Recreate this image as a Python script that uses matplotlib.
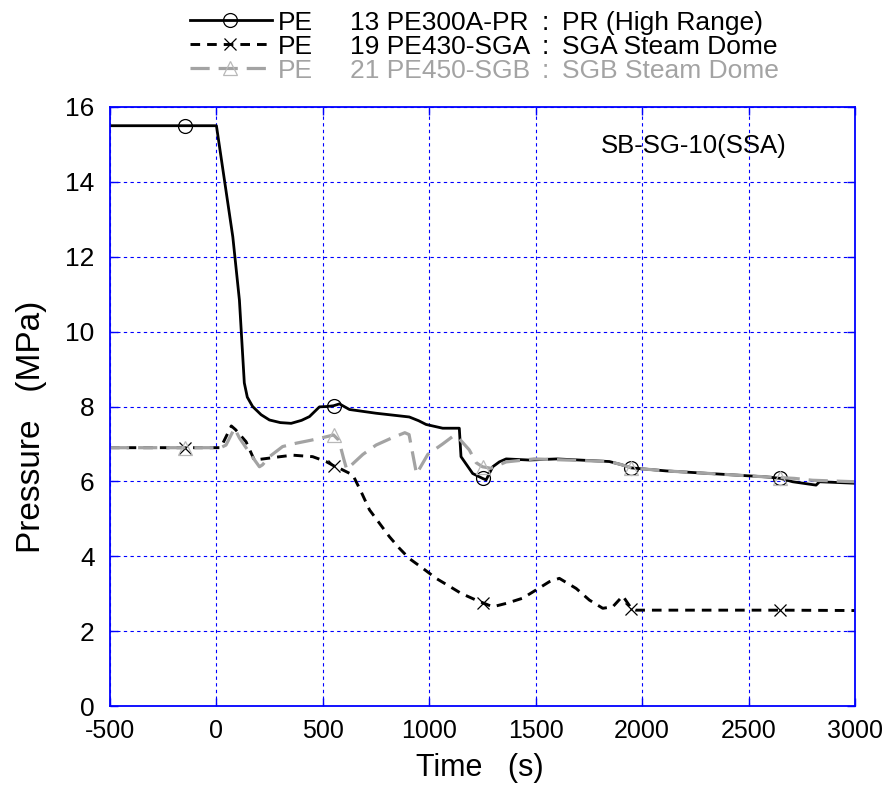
import matplotlib
matplotlib.use('Agg')
import matplotlib.pyplot as plt
from matplotlib.lines import Line2D

# PE 13 PE300A-PR : PR (High Range)
pr_t = [-500, -150, 0, 77, 108, 131, 145, 170, 210, 249, 300, 351, 400, 437, 484, 520, 550, 578, 625, 750,
        906, 950, 985, 1063, 1141, 1149, 1204, 1250, 1267, 1298, 1329, 1361, 1470, 1600, 1846, 1900, 1950,
        2112, 2582, 2650, 2707, 2817, 2833, 3000]
pr_p = [15.5, 15.5, 15.5, 12.53, 10.84, 8.63, 8.25, 8.0, 7.78, 7.64, 7.57, 7.55, 7.63, 7.73, 7.99, 8.0, 8.02, 8.07, 7.92, 7.82,
        7.72, 7.62, 7.52, 7.42, 7.42, 6.66, 6.21, 6.08, 6.04, 6.39, 6.52, 6.6, 6.57, 6.6, 6.53, 6.45, 6.36,
        6.28, 6.12, 6.08, 5.99, 5.9, 5.99, 5.95]

# PE 19 PE430-SGA : SGA Steam Dome
sga_t = [-500, -150, 20, 70, 90, 139, 178, 233, 300, 358, 452, 515, 550, 578, 641, 680, 719, 766, 813, 860,
         906, 969, 1032, 1094, 1149, 1235, 1250, 1298, 1361, 1439, 1502, 1564, 1611, 1690, 1752, 1815, 1862,
         1909, 1950, 1970, 2650, 3000]
sga_p = [6.9, 6.9, 6.9, 7.48, 7.38, 7.06, 6.57, 6.61, 6.66, 6.7, 6.66, 6.53, 6.42, 6.35, 6.17, 5.72, 5.24, 4.88, 4.52, 4.21,
         3.94, 3.68, 3.41, 3.2, 3.01, 2.79, 2.76, 2.65, 2.74, 2.88, 3.1, 3.32, 3.41, 3.14, 2.83, 2.61, 2.65,
         2.94, 2.6, 2.56, 2.56, 2.55]

# PE 21 PE450-SGB : SGB Steam Dome
sgb_t = [-500, -150, 20, 45, 85, 108, 163, 202, 216, 249, 311, 375, 445, 515, 550, 575, 598, 612, 688, 750,
         820, 885, 905, 940, 993, 1063, 1110, 1133, 1188, 1220, 1250, 1290, 1361, 1494, 1846, 1900, 1950,
         2112, 2582, 2650, 2715, 2800, 3000]
sgb_p = [6.9, 6.9, 6.9, 6.97, 7.42, 7.16, 6.7, 6.39, 6.44, 6.66, 6.93, 7.02, 7.1, 7.19, 7.24, 7.1, 6.6, 6.32, 6.72, 6.97,
         7.15, 7.3, 7.25, 6.2, 6.72, 7.0, 7.2, 7.19, 6.84, 6.5, 6.39, 6.35, 6.52, 6.6, 6.53, 6.45, 6.36,
         6.28, 6.12, 6.1, 6.08, 6.03, 5.99]

mark_t = [-150, 550, 1250, 1950, 2650]

leg_id = ['13 PE300A-PR', '19 PE430-SGA', '21 PE450-SGB']
leg_name = ['PR (High Range)', 'SGA Steam Dome', 'SGB Steam Dome']

x_ticks = [-500, 0, 500, 1000, 1500, 2000, 2500, 3000]
y_ticks = [0, 2, 4, 6, 8, 10, 12, 14, 16]

sans = ['Liberation Sans', 'DejaVu Sans']
blue = '#0000ff'
gray = '#a3a3a3'

W, H = 887, 792
fig = plt.figure(figsize=(W / 100, H / 100), dpi=100)
ax = fig.add_axes([110 / W, 1 - 706 / H, 745 / W, 599 / H])

styles = [
    dict(color='k', lw=2.0, ls='-', marker='o', ms=10, mec='k', mew=0.9, mfc='none'),
    dict(color='k', lw=2.1, ls=(0, (3.3, 2.4)), marker='x', ms=9, mec='k', mew=0.9),
    dict(color=gray, lw=2.3, ls=(0, (6, 2.8)), marker='^', ms=10, mec='#b8b8b8', mew=0.9, mfc='none'),
]
series = [(pr_t, pr_p), (sga_t, sga_p), (sgb_t, sgb_p)]

for (t, p), st in zip(series, styles):
    idx = [t.index(m) for m in mark_t]
    ax.plot(t, p, markevery=idx, **st)

ax.set_xlim(-500, 3000)
ax.set_ylim(0, 16)
ax.set_xticks(x_ticks)
ax.set_yticks(y_ticks)
ax.set_xticklabels([str(v) for v in x_ticks], family=sans, fontsize=18)
ax.set_yticklabels([str(v) for v in y_ticks], family=sans, fontsize=19)
ax.tick_params(direction='in', length=6, width=1, color=blue, top=True, right=True)
ax.tick_params(axis='x', pad=9)
ax.tick_params(axis='y', pad=11)
for s in ax.spines.values():
    s.set_color(blue)
    s.set_linewidth(1.3)
ax.grid(True, color=blue, ls=(0, (3, 3)), lw=0.8)

ax.set_xlabel('Time   (s)', family=sans, fontsize=22)
ax.set_ylabel('Pressure   (MPa)', family=sans, fontsize=24)
ax.xaxis.set_label_coords(0.497, -0.078)
ax.yaxis.set_label_coords(-0.085, 0.466)

ax.text(0.783, 0.935, 'SB-SG-10(SSA)', transform=ax.transAxes, family=sans,
        fontsize=18.5, ha='center', va='center')

# legend drawn above the axes
base = [30, 54, 78]
mid = [20, 44, 68]
for i, st in enumerate(styles):
    yb = 1 - base[i] / H
    ym = 1 - mid[i] / H
    tc = gray if i == 2 else 'k'
    h = Line2D([190 / W, 230 / W, 272 / W], [ym, ym, ym], transform=fig.transFigure,
               markevery=[1], **st)
    fig.add_artist(h)
    fig.text(278 / W, yb, 'PE', family=sans, fontsize=19, color=tc, va='baseline')
    fig.text(350 / W, yb, leg_id[i], family=sans, fontsize=19, color=tc, va='baseline')
    fig.text(542 / W, yb, ':', family=sans, fontsize=19, color=tc, va='baseline')
    fig.text(562 / W, yb, leg_name[i], family=sans, fontsize=19, color=tc, va='baseline')

fig.savefig('out.png', dpi=100)
